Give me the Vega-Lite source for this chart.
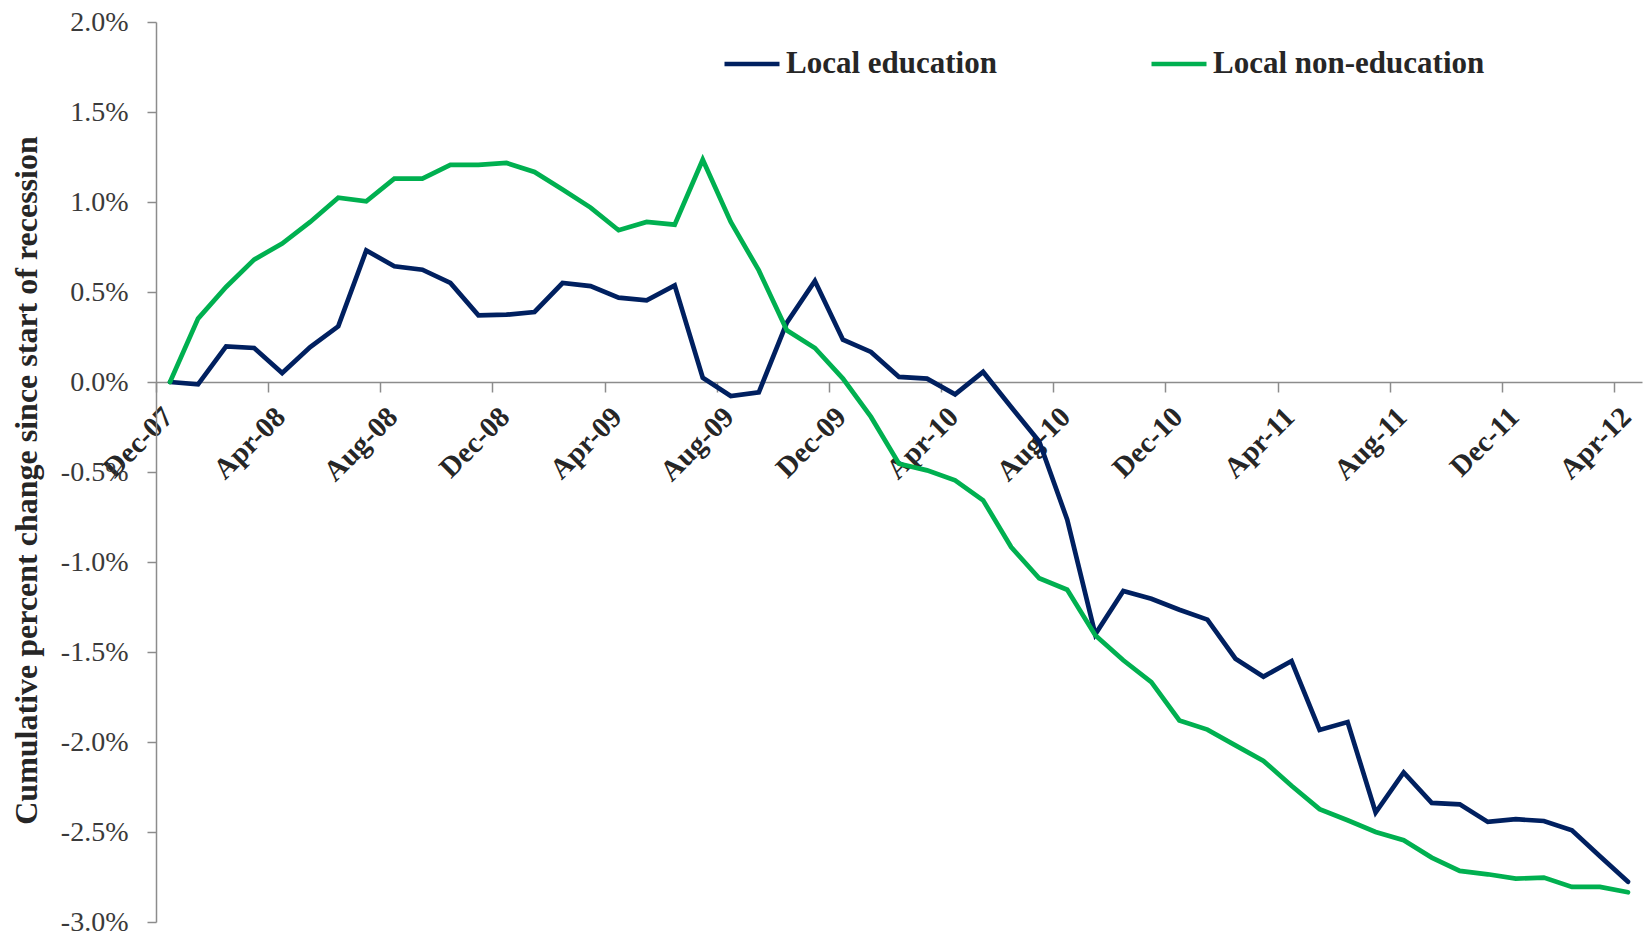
{
  "$schema": "https://vega.github.io/schema/vega-lite/v6.json",
  "width": 1486,
  "height": 900,
  "autosize": {"type": "none"},
  "padding": {"left": 156, "top": 22, "right": 4, "bottom": 14},
  "background": "white",
  "config": {
    "view": {"stroke": null},
    "font": "Liberation Serif"
  },
  "data": {
    "values": [
      {"i":0,"month":"Dec-07","series":"Local education","v":0},
      {"i":1,"month":"Jan-08","series":"Local education","v":-0.013},
      {"i":2,"month":"Feb-08","series":"Local education","v":0.198},
      {"i":3,"month":"Mar-08","series":"Local education","v":0.189},
      {"i":4,"month":"Apr-08","series":"Local education","v":0.050},
      {"i":5,"month":"May-08","series":"Local education","v":0.194},
      {"i":6,"month":"Jun-08","series":"Local education","v":0.309},
      {"i":7,"month":"Jul-08","series":"Local education","v":0.731},
      {"i":8,"month":"Aug-08","series":"Local education","v":0.643},
      {"i":9,"month":"Sep-08","series":"Local education","v":0.624},
      {"i":10,"month":"Oct-08","series":"Local education","v":0.550},
      {"i":11,"month":"Nov-08","series":"Local education","v":0.370},
      {"i":12,"month":"Dec-08","series":"Local education","v":0.374},
      {"i":13,"month":"Jan-09","series":"Local education","v":0.389},
      {"i":14,"month":"Feb-09","series":"Local education","v":0.550},
      {"i":15,"month":"Mar-09","series":"Local education","v":0.533},
      {"i":16,"month":"Apr-09","series":"Local education","v":0.469},
      {"i":17,"month":"May-09","series":"Local education","v":0.454},
      {"i":18,"month":"Jun-09","series":"Local education","v":0.537},
      {"i":19,"month":"Jul-09","series":"Local education","v":0.024},
      {"i":20,"month":"Aug-09","series":"Local education","v":-0.078},
      {"i":21,"month":"Sep-09","series":"Local education","v":-0.057},
      {"i":22,"month":"Oct-09","series":"Local education","v":0.330},
      {"i":23,"month":"Nov-09","series":"Local education","v":0.561},
      {"i":24,"month":"Dec-09","series":"Local education","v":0.235},
      {"i":25,"month":"Jan-10","series":"Local education","v":0.167},
      {"i":26,"month":"Feb-10","series":"Local education","v":0.028},
      {"i":27,"month":"Mar-10","series":"Local education","v":0.019},
      {"i":28,"month":"Apr-10","series":"Local education","v":-0.069},
      {"i":29,"month":"May-10","series":"Local education","v":0.056},
      {"i":30,"month":"Jun-10","series":"Local education","v":-0.139},
      {"i":31,"month":"Jul-10","series":"Local education","v":-0.330},
      {"i":32,"month":"Aug-10","series":"Local education","v":-0.765},
      {"i":33,"month":"Sep-10","series":"Local education","v":-1.402},
      {"i":34,"month":"Oct-10","series":"Local education","v":-1.161},
      {"i":35,"month":"Nov-10","series":"Local education","v":-1.204},
      {"i":36,"month":"Dec-10","series":"Local education","v":-1.265},
      {"i":37,"month":"Jan-11","series":"Local education","v":-1.320},
      {"i":38,"month":"Feb-11","series":"Local education","v":-1.537},
      {"i":39,"month":"Mar-11","series":"Local education","v":-1.637},
      {"i":40,"month":"Apr-11","series":"Local education","v":-1.550},
      {"i":41,"month":"May-11","series":"Local education","v":-1.933},
      {"i":42,"month":"Jun-11","series":"Local education","v":-1.889},
      {"i":43,"month":"Jul-11","series":"Local education","v":-2.392},
      {"i":44,"month":"Aug-11","series":"Local education","v":-2.169},
      {"i":45,"month":"Sep-11","series":"Local education","v":-2.338},
      {"i":46,"month":"Oct-11","series":"Local education","v":-2.346},
      {"i":47,"month":"Nov-11","series":"Local education","v":-2.444},
      {"i":48,"month":"Dec-11","series":"Local education","v":-2.429},
      {"i":49,"month":"Jan-12","series":"Local education","v":-2.439},
      {"i":50,"month":"Feb-12","series":"Local education","v":-2.490},
      {"i":51,"month":"Mar-12","series":"Local education","v":-2.635},
      {"i":52,"month":"Apr-12","series":"Local education","v":-2.777},
      {"i":0,"month":"Dec-07","series":"Local non-education","v":0},
      {"i":1,"month":"Jan-08","series":"Local non-education","v":0.352},
      {"i":2,"month":"Feb-08","series":"Local non-education","v":0.528},
      {"i":3,"month":"Mar-08","series":"Local non-education","v":0.680},
      {"i":4,"month":"Apr-08","series":"Local non-education","v":0.769},
      {"i":5,"month":"May-08","series":"Local non-education","v":0.889},
      {"i":6,"month":"Jun-08","series":"Local non-education","v":1.024},
      {"i":7,"month":"Jul-08","series":"Local non-education","v":1.004},
      {"i":8,"month":"Aug-08","series":"Local non-education","v":1.130},
      {"i":9,"month":"Sep-08","series":"Local non-education","v":1.130},
      {"i":10,"month":"Oct-08","series":"Local non-education","v":1.206},
      {"i":11,"month":"Nov-08","series":"Local non-education","v":1.206},
      {"i":12,"month":"Dec-08","series":"Local non-education","v":1.217},
      {"i":13,"month":"Jan-09","series":"Local non-education","v":1.167},
      {"i":14,"month":"Feb-09","series":"Local non-education","v":1.069},
      {"i":15,"month":"Mar-09","series":"Local non-education","v":0.969},
      {"i":16,"month":"Apr-09","series":"Local non-education","v":0.843},
      {"i":17,"month":"May-09","series":"Local non-education","v":0.889},
      {"i":18,"month":"Jun-09","series":"Local non-education","v":0.874},
      {"i":19,"month":"Jul-09","series":"Local non-education","v":1.235},
      {"i":20,"month":"Aug-09","series":"Local non-education","v":0.889},
      {"i":21,"month":"Sep-09","series":"Local non-education","v":0.620},
      {"i":22,"month":"Oct-09","series":"Local non-education","v":0.287},
      {"i":23,"month":"Nov-09","series":"Local non-education","v":0.189},
      {"i":24,"month":"Dec-09","series":"Local non-education","v":0.019},
      {"i":25,"month":"Jan-10","series":"Local non-education","v":-0.194},
      {"i":26,"month":"Feb-10","series":"Local non-education","v":-0.454},
      {"i":27,"month":"Mar-10","series":"Local non-education","v":-0.491},
      {"i":28,"month":"Apr-10","series":"Local non-education","v":-0.546},
      {"i":29,"month":"May-10","series":"Local non-education","v":-0.657},
      {"i":30,"month":"Jun-10","series":"Local non-education","v":-0.917},
      {"i":31,"month":"Jul-10","series":"Local non-education","v":-1.090},
      {"i":32,"month":"Aug-10","series":"Local non-education","v":-1.154},
      {"i":33,"month":"Sep-10","series":"Local non-education","v":-1.407},
      {"i":34,"month":"Oct-10","series":"Local non-education","v":-1.546},
      {"i":35,"month":"Nov-10","series":"Local non-education","v":-1.667},
      {"i":36,"month":"Dec-10","series":"Local non-education","v":-1.880},
      {"i":37,"month":"Jan-11","series":"Local non-education","v":-1.931},
      {"i":38,"month":"Feb-11","series":"Local non-education","v":-2.019},
      {"i":39,"month":"Mar-11","series":"Local non-education","v":-2.105},
      {"i":40,"month":"Apr-11","series":"Local non-education","v":-2.243},
      {"i":41,"month":"May-11","series":"Local non-education","v":-2.373},
      {"i":42,"month":"Jun-11","series":"Local non-education","v":-2.435},
      {"i":43,"month":"Jul-11","series":"Local non-education","v":-2.500},
      {"i":44,"month":"Aug-11","series":"Local non-education","v":-2.546},
      {"i":45,"month":"Sep-11","series":"Local non-education","v":-2.642},
      {"i":46,"month":"Oct-11","series":"Local non-education","v":-2.716},
      {"i":47,"month":"Nov-11","series":"Local non-education","v":-2.735},
      {"i":48,"month":"Dec-11","series":"Local non-education","v":-2.759},
      {"i":49,"month":"Jan-12","series":"Local non-education","v":-2.753},
      {"i":50,"month":"Feb-12","series":"Local non-education","v":-2.805},
      {"i":51,"month":"Mar-12","series":"Local non-education","v":-2.805},
      {"i":52,"month":"Apr-12","series":"Local non-education","v":-2.835}
    ]
  },
  "mark": {"type": "line", "strokeWidth": 4.7, "strokeCap": "round", "strokeJoin": "miter"},
  "encoding": {
    "x": {
      "field": "i",
      "type": "quantitative",
      "scale": {"domain": [-0.5, 52.5], "nice": false, "zero": false},
      "axis": {
        "title": null,
        "orient": "bottom",
        "offset": -540,
        "values": [-0.5, 3.5, 7.5, 11.5, 15.5, 19.5, 23.5, 27.5, 31.5, 35.5, 39.5, 43.5, 47.5, 51.5],
        "labelExpr": "['Dec-07','Apr-08','Aug-08','Dec-08','Apr-09','Aug-09','Dec-09','Apr-10','Aug-10','Dec-10','Apr-11','Aug-11','Dec-11','Apr-12'][round((datum.value + 0.5) / 4)]",
        "labelOffset": 12,
        "labelAngle": -45,
        "labelAlign": "right",
        "labelBaseline": "middle",
        "labelPadding": 20,
        "labelFont": "Times New Roman, Liberation Serif, serif",
        "labelFontSize": 29,
        "labelFontWeight": "bold",
        "labelColor": "#262626",
        "labelOverlap": false,
        "labelBound": false,
        "labelFlush": false,
        "grid": false,
        "domainColor": "#8c8c8c",
        "domainWidth": 1.5,
        "tickColor": "#8c8c8c",
        "tickWidth": 1.5,
        "tickSize": 10
      }
    },
    "y": {
      "field": "v",
      "type": "quantitative",
      "scale": {"domain": [-3, 2], "nice": false, "zero": false},
      "axis": {
        "title": "Cumulative percent change since start of  recession",
        "titleFont": "Times New Roman, Liberation Serif, serif",
        "titleFontSize": 32,
        "titleFontWeight": "bold",
        "titleColor": "#262626",
        "titleAngle": -90,
        "titleX": -130,
        "titleY": 458,
        "titleAlign": "center",
        "titleBaseline": "middle",
        "values": [-3, -2.5, -2, -1.5, -1, -0.5, 0, 0.5, 1, 1.5, 2],
        "labelExpr": "(datum.value < 0 ? '-' : '') + format(abs(datum.value), '.1f') + '%'",
        "labelFont": "Times New Roman, Liberation Serif, serif",
        "labelFontSize": 28,
        "labelFontWeight": "normal",
        "labelColor": "#3a3a3a",
        "labelPadding": 19,
        "labelOverlap": false,
        "labelBound": false,
        "labelFlush": false,
        "grid": false,
        "domainColor": "#8c8c8c",
        "domainWidth": 1.5,
        "tickColor": "#8c8c8c",
        "tickWidth": 1.5,
        "tickSize": 9
      }
    },
    "color": {
      "field": "series",
      "type": "nominal",
      "scale": {"domain": ["Local education", "Local non-education"], "range": ["#002060", "#00B050"]},
      "legend": {
        "title": null,
        "orient": "none",
        "legendX": 566,
        "legendY": 12,
        "direction": "horizontal",
        "padding": 0,
        "symbolType": "stroke",
        "symbolSize": 3025,
        "symbolStrokeWidth": 4.7,
        "labelFont": "Times New Roman, Liberation Serif, serif",
        "labelFontSize": 31,
        "labelFontWeight": "bold",
        "labelColor": "#262626",
        "labelOffset": 4,
        "labelLimit": 0,
        "columnPadding": 145
      }
    }
  }
}
